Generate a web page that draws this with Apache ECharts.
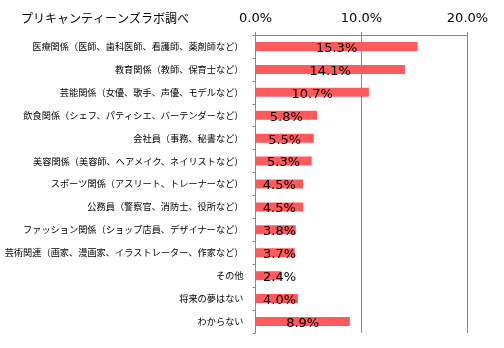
<!DOCTYPE html>
<html>
<head>
<meta charset="utf-8">
<script src="https://cdn.jsdelivr.net/npm/echarts@6/dist/echarts.min.js"></script>
<style>
html,body{margin:0;padding:0;background:#fff;}
#chart{width:504px;height:348px;}
</style>
</head>
<body>
<div id="chart"></div>
<script>
// Occupations (top to bottom) and share of answers in percent
const categories = [
  '医療関係（医師、歯科医師、看護師、薬剤師など）',
  '教育関係（教師、保育士など）',
  '芸能関係（女優、歌手、声優、モデルなど）',
  '飲食関係（シェフ、パティシエ、バーテンダーなど）',
  '会社員（事務、秘書など）',
  '美容関係（美容師、ヘアメイク、ネイリストなど）',
  'スポーツ関係（アスリート、トレーナーなど）',
  '公務員（警察官、消防士、役所など）',
  'ファッション関係（ショップ店員、デザイナーなど）',
  '芸術関連（画家、漫画家、イラストレーター、作家など）',
  'その他',
  '将来の夢はない',
  'わからない'
];
const values = [15.3, 14.1, 10.7, 5.8, 5.5, 5.3, 4.5, 4.5, 3.8, 3.7, 2.4, 4.0, 8.9];
const xTicks = [0, 10, 20];
const title = 'プリキャンティーンズラボ調べ';

const chart = echarts.init(document.getElementById('chart'), null, {renderer: 'canvas'});
const jp = '"Noto Sans CJK JP", sans-serif';
const num = '"DejaVu Sans", Verdana, sans-serif';

// Short bars keep their value label pinned near the axis instead of centred
const minCentre = 2.25;
const barData = values.map(v => (v / 2 < minCentre)
  ? {value: v, label: {position: 'insideLeft', distance: 7.5}}
  : v);

chart.setOption({
  animation: false,
  title: {
    text: title,
    left: 16, top: 7,
    textStyle: {fontFamily: jp, fontSize: 12, fontWeight: 'normal', color: '#000'}
  },
  grid: {left: 255.5, right: 36.5, top: 35, bottom: 15, containLabel: false, outerBoundsMode: 'none'},
  xAxis: {
    type: 'value',
    position: 'top',
    min: xTicks[0], max: xTicks[xTicks.length - 1], interval: 10,
    axisLine: {show: true, lineStyle: {color: '#888', width: 1}},
    axisTick: {show: true, length: 3, lineStyle: {color: '#888'}},
    splitLine: {show: true, lineStyle: {color: '#888', width: 1}},
    axisLabel: {
      fontFamily: num, fontSize: 13, color: '#000', margin: 10,
      formatter: v => v.toFixed(1) + '%'
    }
  },
  yAxis: {
    type: 'category',
    inverse: true,
    data: categories,
    axisLine: {show: true, lineStyle: {color: '#888', width: 1}},
    axisTick: {show: true, length: 3, lineStyle: {color: '#888'}},
    axisLabel: {fontFamily: jp, fontSize: 9.2, color: '#000', margin: 12}
  },
  series: [{
    type: 'bar',
    data: barData,
    barWidth: 9,
    itemStyle: {color: '#fe5a5e'},
    label: {
      show: true,
      position: 'inside',
      offset: [0, 2],
      fontFamily: num, fontSize: 13, color: '#000',
      formatter: p => p.value.toFixed(1) + '%'
    }
  }]
});
</script>
</body>
</html>
